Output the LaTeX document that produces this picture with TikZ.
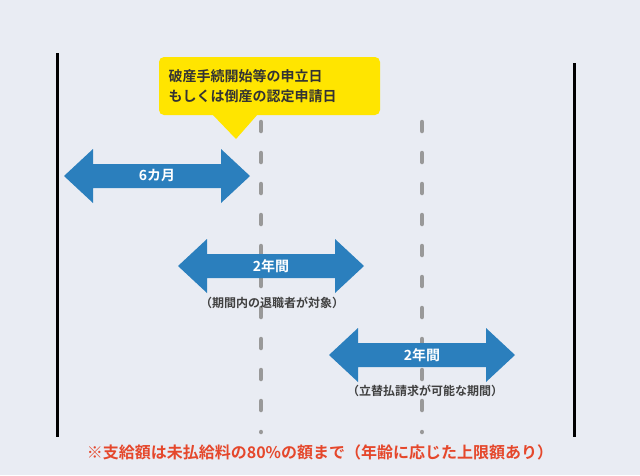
\documentclass[tikz,border=0pt]{standalone}
\usepackage{fontspec}
\setmainfont{Noto Sans CJK JP}[BoldFont={* Bold}]
\begin{document}
\definecolor{bg}{HTML}{E9ECF3}
\definecolor{arr}{HTML}{2B7FBD}
\definecolor{dashgray}{HTML}{999999}
\definecolor{yel}{HTML}{FFE500}
\definecolor{redtext}{HTML}{E5472B}
\begin{tikzpicture}[x=1pt,y=-1pt,
  vline/.style={line width=3pt,black},
  dl/.style={line width=4.5pt,draw=dashgray,line cap=round,dash pattern=on 9pt off 22pt},
  lab/.style={font=\bfseries\fontsize{14}{16}\selectfont,text=white},
  note/.style={font=\bfseries\fontsize{12}{14}\selectfont,text=black!75}]
\fill[bg] (0,0) rectangle (640,475);
\useasboundingbox (0,0) rectangle (640,475);
\coordinate (l1a) at (57,53); \coordinate (l1b) at (57,437);
\coordinate (l2a) at (574,63); \coordinate (l2b) at (574,437);
\draw[vline] (l1a) -- (l1b);
\draw[vline] (l2a) -- (l2b);
\coordinate (d1a) at (261,122); \coordinate (d1b) at (261,432);
\coordinate (d2a) at (422,122); \coordinate (d2b) at (422,432);
\draw[dl] (d1a) -- (d1b);
\draw[dl] (d2a) -- (d2b);
\newcommand{\dblarrow}[4]{%
 \fill[arr] (#1,#3) -- (#1+29,#3-27) -- (#1+29,#3-12) -- (#2-29,#3-12) -- (#2-29,#3-27) -- (#2,#3) -- (#2-29,#3+27) -- (#2-29,#3+12) -- (#1+29,#3+12) -- (#1+29,#3+27) -- cycle;
 \node[lab] at ({(#1+#2)/2},#3) {#4};}
\dblarrow{64}{250}{176}{6カ月}
\dblarrow{178}{364}{266}{2年間}
\dblarrow{329}{515}{355}{2年間}
\node[note] (n1) at (272,303) {（期間内の退職者が対象）};
\node[note] (n2) at (425,391) {（立替払請求が可能な期間）};
\fill[yel,rounded corners=5pt] (159,57) rectangle (380,115);
\fill[yel] (212,114) -- (258,114) -- (236,139) -- cycle;
\node[font=\bfseries\fontsize{14}{20}\selectfont,text=black!80,align=left,anchor=west] (c) at (165,86) {破産手続開始等の申立日\\もしくは倒産の認定申請日};
\node[font=\bfseries\fontsize{16}{18}\selectfont,text=redtext] (r) at (320,452) {※支給額は未払給料の80\%の額まで（年齢に応じた上限額あり）};
\end{tikzpicture}
\end{document}
